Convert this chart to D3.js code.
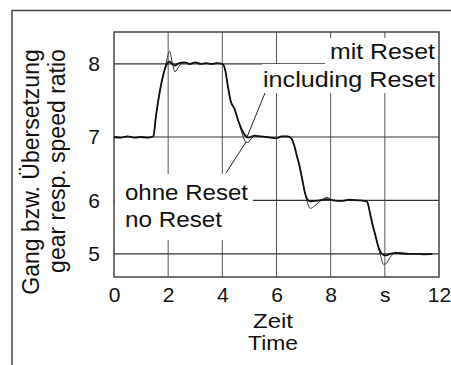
<!DOCTYPE html>
<html>
<head>
<meta charset="utf-8">
<script src="https://cdn.jsdelivr.net/npm/d3@7"></script>
<style>
  body { margin: 0; background: #fff; }
  svg { display: block; font-family: "Liberation Sans", Arial, sans-serif; }
</style>
</head>
<body>
<svg></svg>
<script>
// Zeit in s
var zeit = [0, 0.25, 0.5, 0.75, 1.0, 1.25, 1.45, 1.55, 1.65, 1.75, 1.85, 1.95, 2.05, 2.15, 2.25, 2.4, 2.6, 2.8, 3.0, 3.2, 3.4, 3.6, 3.8, 4.0,
    4.1, 4.2, 4.3, 4.45, 4.6, 4.75, 4.85, 4.95, 5.05, 5.2, 5.4, 5.6, 5.8, 6.0, 6.2, 6.4, 6.55, 6.65, 6.75, 6.85, 6.95, 7.05, 7.15, 7.25,
    7.4, 7.6, 7.85, 8.1, 8.4, 8.7, 9.0, 9.25, 9.35, 9.45, 9.55, 9.65, 9.75, 9.85, 9.95, 10.05, 10.2, 10.4, 10.6, 10.9, 11.2, 11.5, 11.75];

// mit Reset / including Reset
var mitReset = [7.00, 6.99, 7.01, 6.99, 7.00, 6.99, 7.01, 7.30, 7.55, 7.75, 7.90, 8.00, 8.03, 8.00, 7.98, 8.01, 8.02, 8.00, 8.02, 8.00, 8.01, 8.00, 8.01, 8.00,
    7.93, 7.72, 7.52, 7.40, 7.22, 7.08, 7.02, 6.99, 7.00, 7.02, 7.01, 7.00, 6.99, 6.98, 7.01, 7.01, 6.98, 6.88, 6.72, 6.56, 6.35, 6.13, 6.01, 5.98,
    5.99, 6.00, 6.02, 6.00, 5.99, 6.01, 6.00, 5.99, 5.97, 5.78, 5.56, 5.37, 5.16, 5.03, 4.98, 4.97, 5.00, 5.02, 5.01, 5.00, 5.00, 4.99, 5.00];

// ohne Reset / no Reset
var ohneReset = [7.00, 6.99, 7.01, 6.99, 7.00, 6.99, 7.01, 7.30, 7.55, 7.75, 7.90, 8.05, 8.16, 8.02, 7.90, 7.97, 8.02, 8.00, 8.02, 8.00, 8.01, 8.00, 8.01, 8.00,
    7.93, 7.72, 7.52, 7.40, 7.22, 7.03, 6.93, 6.92, 6.97, 7.01, 7.01, 7.00, 6.99, 6.98, 7.01, 7.01, 6.98, 6.88, 6.72, 6.56, 6.35, 6.13, 5.95, 5.86,
    5.90, 5.98, 6.05, 6.00, 5.99, 6.01, 6.00, 5.99, 5.97, 5.78, 5.56, 5.37, 5.16, 4.95, 4.78, 4.80, 4.93, 5.03, 5.02, 5.00, 5.00, 4.99, 5.00];

var xTicks = [0, 2, 4, 6, 8, 10, 12];
var xTickLabels = ["0", "2", "4", "6", "8", "s", "12"];
var yTicks = [5, 6, 7, 8];

var width = 451;
var height = 365;

var svg = d3.select('svg')
    .attr('width', width)
    .attr('height', height)
    .attr('viewBox', '0 0 ' + width + ' ' + height);

var x = d3.scaleLinear().domain([0, 12]).range([114, 439]);
var y = d3.scalePow().exponent(2).domain([4.5, 8.4]).range([277, 32]);

// outer frame
svg.append('path')
    .attr('d', 'M12,' + height + 'V10.5H' + width)
    .attr('fill', 'none')
    .attr('stroke', '#444')
    .attr('stroke-width', 1.5);

var g = svg.append('g');

// grid
g.selectAll('.vgrid')
    .data(xTicks.slice(1, -1))
    .enter()
    .append('line')
    .attr('x1', function (d) { return x(d); })
    .attr('x2', function (d) { return x(d); })
    .attr('y1', y.range()[1])
    .attr('y2', y.range()[0])
    .attr('stroke', '#555')
    .attr('stroke-width', 1);

g.selectAll('.hgrid')
    .data(yTicks)
    .enter()
    .append('line')
    .attr('x1', x(0))
    .attr('x2', x(12))
    .attr('y1', function (d) { return y(d); })
    .attr('y2', function (d) { return y(d); })
    .attr('stroke', '#333')
    .attr('stroke-width', 1.2);

// white boxes behind the labels
var boxes = [[325, 38, 113, 27], [262, 64, 176, 29], [115, 174, 138, 66]];
g.selectAll('.box')
    .data(boxes)
    .enter()
    .append('rect')
    .attr('x', function (d) { return d[0]; })
    .attr('y', function (d) { return d[1]; })
    .attr('width', function (d) { return d[2]; })
    .attr('height', function (d) { return d[3]; })
    .attr('fill', '#fff');

// plot frame
g.append('rect')
    .attr('x', x(0))
    .attr('y', y.range()[1])
    .attr('width', x(12) - x(0))
    .attr('height', y.range()[0] - y.range()[1])
    .attr('fill', 'none')
    .attr('stroke', '#444')
    .attr('stroke-width', 1.5);

// curves
var line = d3.line()
    .x(function (d, i) { return x(zeit[i]); })
    .y(function (d) { return y(d); })
    .curve(d3.curveMonotoneX);

g.append('path')
    .attr('d', line(ohneReset))
    .attr('fill', 'none')
    .attr('stroke', '#333')
    .attr('stroke-width', 1);

g.append('path')
    .attr('d', line(mitReset))
    .attr('fill', 'none')
    .attr('stroke', '#111')
    .attr('stroke-width', 1.8);

// leader lines
g.append('line')
    .attr('x1', 265).attr('y1', 93)
    .attr('x2', x(4.9)).attr('y2', y(6.99))
    .attr('stroke', '#222').attr('stroke-width', 1);
g.append('line')
    .attr('x1', 226).attr('y1', 173)
    .attr('x2', x(4.88)).attr('y2', y(6.93))
    .attr('stroke', '#222').attr('stroke-width', 1);

// axes
var xAxis = d3.axisBottom(x)
    .tickValues(xTicks)
    .tickSize(0)
    .tickPadding(10)
    .tickFormat(function (d, i) { return xTickLabels[i]; });

var gx = svg.append('g')
    .attr('transform', 'translate(0,' + y.range()[0] + ')')
    .call(xAxis);
gx.select('.domain').remove();
gx.selectAll('text')
    .attr('font-size', 21)
    .attr('font-family', '"Liberation Sans", Arial, sans-serif')
    .attr('fill', '#111');

var yAxis = d3.axisLeft(y)
    .tickValues(yTicks)
    .tickSize(0)
    .tickPadding(14)
    .tickFormat(d3.format('d'));

var gy = svg.append('g')
    .attr('transform', 'translate(' + x(0) + ',0)')
    .call(yAxis);
gy.select('.domain').remove();
gy.selectAll('text')
    .attr('font-size', 21)
    .attr('font-family', '"Liberation Sans", Arial, sans-serif')
    .attr('fill', '#111');

// texts
var labels = [
    { t: 'mit Reset', x: 435, y: 59, anchor: 'end', w: 105, fs: 22 },
    { t: 'including Reset', x: 435, y: 87, anchor: 'end', w: 172, fs: 22 },
    { t: 'ohne Reset', x: 125, y: 200, anchor: 'start', w: 123, fs: 22 },
    { t: 'no Reset', x: 125, y: 227, anchor: 'start', w: 97, fs: 22 },
    { t: 'Zeit', x: 273, y: 328, anchor: 'middle', w: 40, fs: 20 },
    { t: 'Time', x: 273, y: 350, anchor: 'middle', w: 50, fs: 20 }
];
svg.selectAll('.lab')
    .data(labels)
    .enter()
    .append('text')
    .attr('x', function (d) { return d.x; })
    .attr('y', function (d) { return d.y; })
    .attr('text-anchor', function (d) { return d.anchor; })
    .attr('font-size', function (d) { return d.fs; })
    .attr('textLength', function (d) { return d.w; })
    .attr('lengthAdjust', 'spacingAndGlyphs')
    .attr('fill', '#111')
    .text(function (d) { return d.t; });

svg.append('text')
    .attr('transform', 'translate(39,172) rotate(-90)')
    .attr('text-anchor', 'middle')
    .attr('font-size', 23)
    .attr('fill', '#111')
    .text('Gang bzw. Übersetzung');

svg.append('text')
    .attr('transform', 'translate(65,161) rotate(-90)')
    .attr('text-anchor', 'middle')
    .attr('font-size', 23)
    .attr('fill', '#111')
    .text('gear resp. speed ratio');
</script>
</body>
</html>
